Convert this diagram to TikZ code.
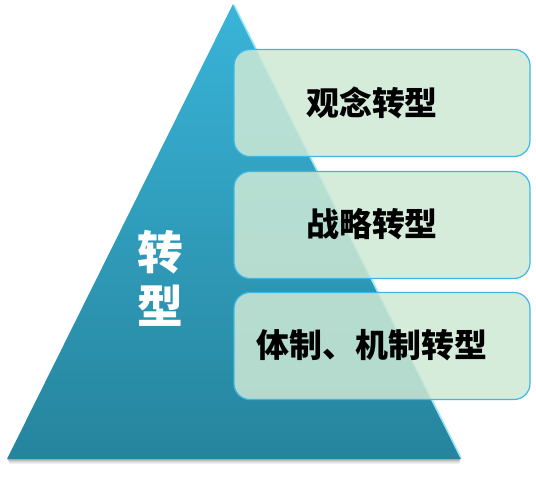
\documentclass[tikz,border=0pt]{standalone}
\usepackage{fontspec}
\newfontfamily\cjk{Noto Sans CJK SC}
\usepackage{tikz}
\usetikzlibrary{calc,positioning}

\definecolor{trtop}{RGB}{57,180,216}
\definecolor{trbot}{RGB}{38,132,157}
\definecolor{boxfill}{RGB}{206,233,213}
\definecolor{boxline}{RGB}{60,184,232}
\definecolor{edgehi}{RGB}{150,230,245}

\tikzset{
	stage/.style={draw=boxline, line width=1.2bp, fill=boxfill, fill opacity=0.85,
		rounded corners=16bp, minimum width=296bp, minimum height=107bp, inner sep=0pt},
	stagetext/.style={inner sep=0pt, font=\cjk\bfseries\fontsize{33}{36}\selectfont}
}

\begin{document}
\begin{tikzpicture}[x=1bp,y=-1bp]
	\useasboundingbox (0,0) rectangle (536,479);
	\coordinate (apex) at (233,4);
	\coordinate (bl) at (7,459);
	\coordinate (br) at (461,459);
	
	% shadow under the base
	\foreach \k in {1,2,...,6}{
		\fill[black, opacity=0.06] ($(bl)+(\k*0.3,0)$) rectangle ($(br)+(-\k*0.3,\k*0.8)$);
	}
	
	\shade[top color=trtop, bottom color=trbot] (apex) -- (br) -- (bl) -- cycle;
	\draw[edgehi, line width=1.5bp] ($(apex)+(1,1)$) -- ($(br)+(0,-1)$);
	
	\node[white, font=\cjk\bfseries\fontsize{46}{54}\selectfont, align=center] (side) at (160,278) {转\\型};
	
	\node[stage] (s1) at (382,103) {};
	\node[stage] (s2) at (382,225) {};
	\node[stage] (s3) at (382,346) {};
	
	\node[stagetext] (t1) at ($(s1.center)+(-10,0)$) {观念转型};
	\node[stagetext] (t2) at ($(s2.center)+(-10,-1)$) {战略转型};
	\node[stagetext] (t3) at ($(s3.center)+(-10,-1)$) {体制、机制转型};
\end{tikzpicture}
\end{document}
